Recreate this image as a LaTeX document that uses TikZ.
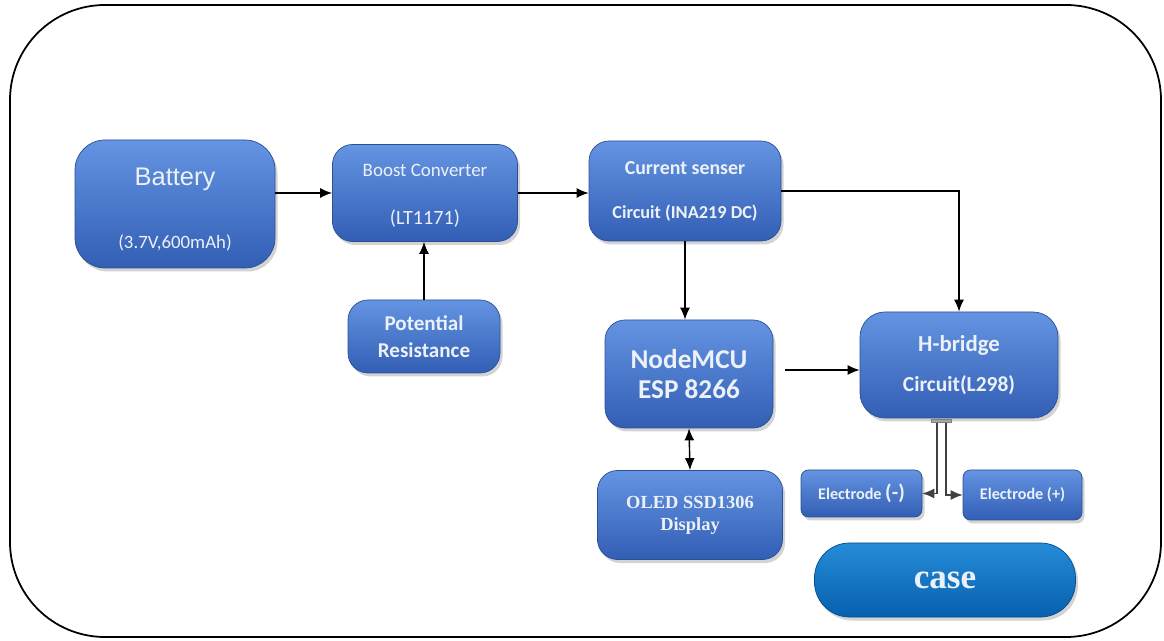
\documentclass[tikz,border=0pt]{standalone}
\usepackage{fontspec}
\setmainfont{Carlito}
\newfontfamily\arialfont{Liberation Sans}
\newfontfamily\timesfont{Liberation Serif}
\usepackage{tikz}
\usetikzlibrary{arrows.meta,shadows,calc}
\definecolor{boxtop}{RGB}{100,148,226}
\definecolor{boxbot}{RGB}{50,94,180}
\definecolor{boxline}{RGB}{42,80,148}
\definecolor{casetop}{RGB}{38,140,216}
\definecolor{casebot}{RGB}{6,96,174}
\definecolor{txt}{RGB}{236,241,248}
\tikzset{
  blk/.style={rounded corners=0.4cm, top color=boxtop, bottom color=boxbot,
    draw=boxline, line width=0.4pt, text=txt, align=center, inner sep=0pt,
    drop shadow={opacity=0.35, shadow xshift=0.05cm, shadow yshift=-0.07cm}},
  wire/.style={line width=0.8pt, black}
}

\begin{document}
\begin{tikzpicture}[>={Latex[length=2.4mm,width=2mm]}]
\useasboundingbox (0,0) rectangle (23.28,-12.82);
\draw[line width=1pt, rounded corners=1.9cm] (0.2,-0.1) rectangle (23.22,-12.74);

\node[blk, rounded corners=0.6cm, minimum width=4cm, minimum height=2.56cm] (battery) at (3.5,-4.08)
  {{\arialfont\fontsize{14.5}{16}\selectfont\rule{0pt}{16pt}Battery}\\[24pt]{\fontsize{10.7}{12}\selectfont (3.7V,600mAh)}};
\node[blk, minimum width=3.7cm, minimum height=1.94cm] (boost) at (8.5,-3.86)
  {{\fontsize{10.8}{12}\selectfont\rule{0pt}{10pt}Boost Converter}\\[15pt]{\fontsize{11.5}{13}\selectfont (LT1171)}};
\node[blk, minimum width=3.84cm, minimum height=2cm, font=\bfseries] (sensor) at (13.7,-3.82)
  {{\fontsize{11.3}{13}\selectfont Current senser}\\[13pt]{\fontsize{10.4}{12}\selectfont Circuit (INA219 DC)}};
\node[blk, minimum width=3.04cm, minimum height=1.46cm, font=\bfseries\fontsize{12}{15.5}\selectfont] (resist) at (8.48,-6.73)
  {Potential\\Resistance};
\node[blk, minimum width=3.36cm, minimum height=2.16cm, font=\bfseries\fontsize{15.5}{17.5}\selectfont] (mcu) at (13.78,-7.48)
  {NodeMCU\\ESP 8266};
\node[blk, rounded corners=0.5cm, minimum width=3.96cm, minimum height=2.12cm, font=\bfseries] (hbridge) at (19.18,-7.3)
  {{\fontsize{13}{15}\selectfont H-bridge}\\[11pt]{\fontsize{12.2}{14}\selectfont Circuit(L298)}};
\node[blk, minimum width=3.7cm, minimum height=1.78cm, font=\timesfont\bfseries\fontsize{10.5}{12.5}\selectfont] (oled) at (13.8,-10.3)
  {OLED SSD1306\\Display};
\node[blk, rounded corners=0.15cm, minimum width=2.42cm, minimum height=0.94cm, font=\bfseries\fontsize{9.2}{11}\selectfont] (eminus) at (17.23,-9.87)
  {Electrode {\fontsize{12}{12}\selectfont(-)}};
\node[blk, rounded corners=0.15cm, minimum width=2.38cm, minimum height=1cm, font=\bfseries\fontsize{9.2}{11}\selectfont] (eplus) at (20.45,-9.9)
  {Electrode (+)};
\node[blk, rounded corners=0.7cm, top color=casetop, bottom color=casebot, draw=casebot!80!black,
  minimum width=5.22cm, minimum height=1.48cm, font=\timesfont\bfseries\fontsize{20}{22}\selectfont] (case) at (18.9,-11.6)
  {case};
\node[fill=gray!70, draw=gray, minimum width=0.4cm, minimum height=0.07cm, inner sep=0pt] (tab) at (18.83,-8.42) {};
\coordinate (tapL) at ($(tab.south)+(-0.09,0)$);
\coordinate (tapR) at ($(tab.south)+(0.09,0)$);

\draw[wire,->] (battery.east |- boost) -- (boost.west);
\draw[wire,->] (boost.east) -- (boost.east -| sensor.west);
\draw[wire,->] (sensor.east) -| (hbridge.north);
\draw[wire,->] (sensor.south) -- (sensor.south |- mcu.north);
\draw[wire,->] (resist.north) -- (resist.north |- boost.south);
\draw[wire,->,shorten <=0.24cm] (mcu.east |- 0,-7.4) -- (hbridge.west |- 0,-7.4);
\draw[wire,<->] (mcu.south) -- (oled.north);
\draw[line width=0.7pt, black!75, ->] (tapL) |- (eminus.east);
\draw[line width=0.7pt, black!75, ->] (tapR) |- (eplus.west);
\end{tikzpicture}
\end{document}
